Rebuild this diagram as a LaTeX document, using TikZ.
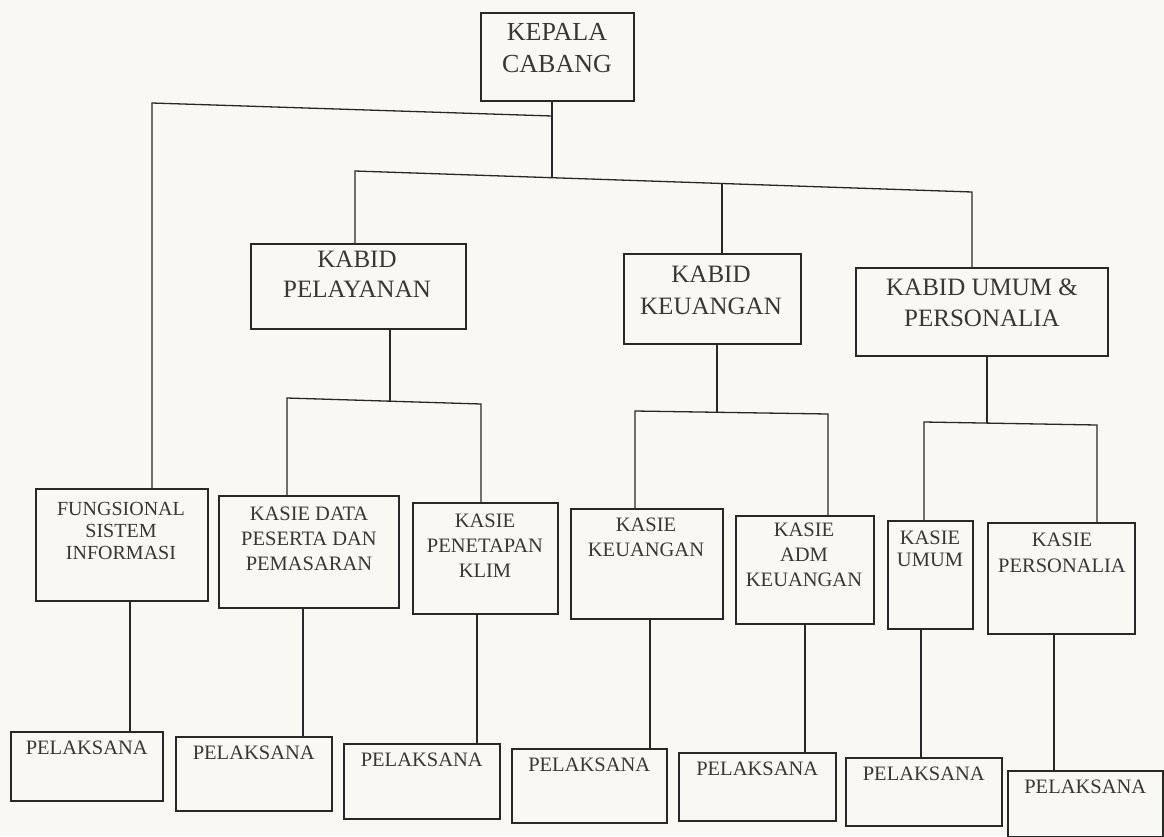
\documentclass[tikz,border=0pt]{standalone}
\usepackage{fontspec}
\setmainfont{Liberation Serif}
\definecolor{ink}{RGB}{40,40,40}
\definecolor{txtc}{RGB}{55,55,55}
\definecolor{paper}{RGB}{250,248,243}
\tikzset{
  obox/.style={draw=ink, line width=1.5pt, rectangle, inner sep=0pt},
  txt/.style={text=txtc, align=center, inner sep=0pt},
  conn/.style={draw=ink, line width=1.3pt, line join=miter},
  big/.style={font=\fontsize{25}{31}\selectfont},
  mid/.style={font=\fontsize{20.5}{24}\selectfont},
}
\newcommand{\orgbox}[5]{\node[obox, minimum width={(#4-#2)*1pt}, minimum height={(#5-#3)*1pt}, anchor=north west] (#1) at (#2,#3) {};}
\begin{document}
\begin{tikzpicture}[x=1pt,y=-1pt]
\fill[paper] (0,0) rectangle (1164,836);
\useasboundingbox (0,0) rectangle (1164,836);

% ---- boxes ----
\orgbox{kc}{480}{12}{633}{100}
\orgbox{kbp}{250}{243}{465}{328}
\orgbox{kbk}{623}{253}{800}{343}
\orgbox{kbu}{855}{267}{1107}{355}

\orgbox{fsi}{35}{488}{207}{600}
\orgbox{kdp}{218}{495}{398}{607}
\orgbox{kpk}{412}{502}{557}{613}
\orgbox{kku}{570}{508}{722}{618}
\orgbox{kadm}{735}{515}{873}{623}
\orgbox{kum}{887}{520}{972}{628}
\orgbox{kper}{987}{522}{1134}{633}

\orgbox{pl1}{10}{731}{162}{800}
\orgbox{pl2}{175}{736}{331}{810}
\orgbox{pl3}{343}{743}{499}{818}
\orgbox{pl4}{511}{748}{666}{822}
\orgbox{pl5}{678}{752}{835}{820}
\orgbox{pl6}{845}{757}{1001}{825}
\orgbox{pl7}{1007}{770}{1162}{836}

% ---- texts ----
\node[txt, font=\fontsize{26}{32}\selectfont, anchor=north] (kc-t) at (557,23) {KEPALA\\CABANG};
\node[txt, font=\fontsize{25}{30}\selectfont, anchor=north] (kbp-t) at (357,251) {KABID\\PELAYANAN};
\node[txt, font=\fontsize{25}{32}\selectfont, anchor=north] (kbk-t) at (711,266) {KABID\\KEUANGAN};
\node[txt, font=\fontsize{25}{31}\selectfont, anchor=north] (kbu-t) at (982,279) {KABID UMUM \&\\PERSONALIA};

\node[txt, font=\fontsize{20}{22}\selectfont, anchor=north] (fsi-t) at (121,502) {FUNGSIONAL\\SISTEM\\INFORMASI};
\node[txt, font=\fontsize{20.5}{25}\selectfont, anchor=north] (kdp-t) at (309,507) {KASIE DATA\\PESERTA DAN\\PEMASARAN};
\node[txt, font=\fontsize{20.5}{25}\selectfont, anchor=north] (kpk-t) at (485,514) {KASIE\\PENETAPAN\\KLIM};
\node[txt, font=\fontsize{20.5}{25}\selectfont, anchor=north] (kku-t) at (646,518) {KASIE\\KEUANGAN};
\node[txt, font=\fontsize{20.5}{25}\selectfont, anchor=north] (kadm-t) at (804,523) {KASIE\\ADM\\KEUANGAN};
\node[txt, font=\fontsize{20.5}{22}\selectfont, anchor=north] (kum-t) at (930,531) {KASIE\\UMUM};
\node[txt, font=\fontsize{20.5}{26}\selectfont, anchor=north] (kper-t) at (1062,533) {KASIE\\PERSONALIA};

\foreach \n in {pl1,pl2,pl3,pl4,pl5,pl6,pl7}{
  \node[txt, mid, anchor=north] (\n-t) at ([yshift=-10pt]\n.north) {PELAKSANA};
}

% ---- connector coordinates ----
\coordinate (s0) at (552,178);
\coordinate (l1) at (552,116);
\coordinate (l2) at (152,103);
\coordinate (h1) at (355,171);
\coordinate (h2) at (972,192);
\coordinate (m2) at (722,183);
\coordinate (p0) at (390,401);
\coordinate (p1) at (287,398);
\coordinate (p2) at (481,404);
\coordinate (k0) at (717,412);
\coordinate (k1) at (635,411);
\coordinate (k2) at (828,414);
\coordinate (u0) at (987,423);
\coordinate (u1) at (924,422);
\coordinate (u2) at (1097,425);
\coordinate (d1) at (130,0);
\coordinate (d2) at (303,0);
\coordinate (d3) at (477,0);
\coordinate (d4) at (650,0);
\coordinate (d5) at (805,0);
\coordinate (d6) at (921,0);
\coordinate (d7) at (1054,0);

% ---- connectors ----
\draw[conn] (kc.south -| s0) -- (s0);
\draw[conn] (l1) -- (l2) -- (fsi.north -| l2);
\draw[conn] (kbp.north -| h1) -- (h1) -- (h2) -- (kbu.north -| h2);
\draw[conn] (m2) -- (kbk.north -| m2);

\draw[conn] (kbp.south -| p0) -- (p0);
\draw[conn] (kdp.north -| p1) -- (p1) -- (p2) -- (kpk.north -| p2);
\draw[conn] (kbk.south -| k0) -- (k0);
\draw[conn] (kku.north -| k1) -- (k1) -- (k2) -- (kadm.north -| k2);
\draw[conn] (kbu.south -| u0) -- (u0);
\draw[conn] (kum.north -| u1) -- (u1) -- (u2) -- (kper.north -| u2);

\draw[conn] (fsi.south -| d1) -- (pl1.north -| d1);
\draw[conn] (kdp.south -| d2) -- (pl2.north -| d2);
\draw[conn] (kpk.south -| d3) -- (pl3.north -| d3);
\draw[conn] (kku.south -| d4) -- (pl4.north -| d4);
\draw[conn] (kadm.south -| d5) -- (pl5.north -| d5);
\draw[conn] (kum.south -| d6) -- (pl6.north -| d6);
\draw[conn] (kper.south -| d7) -- (pl7.north -| d7);
\end{tikzpicture}
\end{document}
